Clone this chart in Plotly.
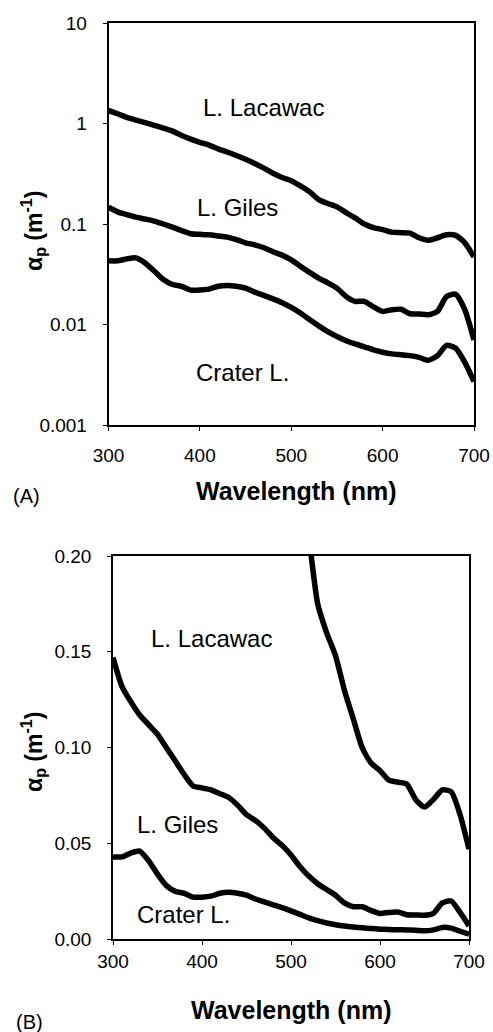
import plotly.graph_objects as go

wavelength = list(range(300, 701, 10))

lacawac = [1.35, 1.25, 1.15, 1.08, 1.02, 0.96, 0.90, 0.84, 0.76, 0.70,
           0.65, 0.61, 0.56, 0.52, 0.48, 0.44, 0.40, 0.36, 0.32, 0.29,
           0.27, 0.24, 0.21, 0.175, 0.16, 0.148, 0.13, 0.115, 0.10, 0.092,
           0.088, 0.083, 0.082, 0.081, 0.073, 0.069, 0.073, 0.078, 0.077, 0.065,
           0.047]

giles = [0.147, 0.132, 0.124, 0.117, 0.112, 0.107, 0.100, 0.093, 0.086, 0.080,
         0.079, 0.078, 0.076, 0.074, 0.070, 0.065, 0.062, 0.058, 0.053, 0.049,
         0.044, 0.038, 0.033, 0.029, 0.026, 0.023, 0.019, 0.017, 0.017, 0.015,
         0.0135, 0.014, 0.0142, 0.0128, 0.0127, 0.0125, 0.0135, 0.019, 0.020, 0.014,
         0.007]

crater = [0.043, 0.043, 0.045, 0.046, 0.041, 0.034, 0.028, 0.025, 0.024, 0.022,
          0.022, 0.0225, 0.024, 0.0245, 0.024, 0.023, 0.021, 0.0195, 0.018, 0.0165,
          0.0148, 0.013, 0.0112, 0.0097, 0.0085, 0.0076, 0.0069, 0.0064, 0.006, 0.0056,
          0.0053, 0.0051, 0.005, 0.0049, 0.0047, 0.0044, 0.0049, 0.0062, 0.0058, 0.0042,
          0.0027]

log_ticks = [0.001, 0.01, 0.1, 1, 10]
log_tick_text = ["0.001", "0.01", "0.1", "1", "10"]
lin_ticks = [0.00, 0.05, 0.10, 0.15, 0.20]
lin_tick_text = ["0.00", "0.05", "0.10", "0.15", "0.20"]
x_ticks = [300, 400, 500, 600, 700]

W, H = 493, 1032
FONT = "Liberation Sans, Arial, sans-serif"

def px(x):
    return x / W

def py(y):
    return 1 - y / H

fig = go.Figure()
line = dict(color="black", width=5.5, shape="spline", smoothing=0.6)
for series in (lacawac, giles, crater):
    fig.add_trace(go.Scatter(x=wavelength, y=series, mode="lines", line=line,
                             xaxis="x", yaxis="y", showlegend=False, hoverinfo="skip"))
for series in (lacawac, giles, crater):
    fig.add_trace(go.Scatter(x=wavelength, y=series, mode="lines", line=line,
                             xaxis="x2", yaxis="y2", showlegend=False, hoverinfo="skip"))

axis_common = dict(showline=True, linecolor="black", linewidth=1.5, mirror=True,
                   ticks="outside", ticklen=4, tickwidth=1.2, tickcolor="black",
                   showgrid=False, zeroline=False, automargin=False,
                   tickfont=dict(family=FONT, size=19, color="black"))

fig.update_layout(
    width=W, height=H,
    margin=dict(l=0, r=0, t=0, b=0),
    paper_bgcolor="white", plot_bgcolor="white",
    xaxis=dict(domain=[px(108.5), px(474)], range=[300, 700], tickvals=x_ticks,
               anchor="y", ticklabelstandoff=8, **axis_common),
    yaxis=dict(domain=[py(425), py(23)], type="log", range=[-3, 1],
               tickvals=log_ticks, ticktext=log_tick_text, anchor="x",
               ticklabelstandoff=12, **axis_common),
    xaxis2=dict(domain=[px(113), px(469)], range=[300, 700], tickvals=x_ticks,
                anchor="y2", ticklabelstandoff=0, **axis_common),
    yaxis2=dict(domain=[py(939.3), py(556)], range=[0, 0.2],
                tickvals=lin_ticks, ticktext=lin_tick_text, anchor="x2",
                ticklabelstandoff=12, **axis_common),
)

lab_font = dict(family=FONT, size=24, color="black")
annotations = [
    dict(text="L. Lacawac", x=470, y=0.16, xref="x", yref="y"),
    dict(text="L. Giles", x=441, y=-0.837, xref="x", yref="y"),
    dict(text="Crater L.", x=447, y=-2.48, xref="x", yref="y"),
    dict(text="L. Lacawac", x=411, y=0.157, xref="x2", yref="y2"),
    dict(text="L. Giles", x=372, y=0.0597, xref="x2", yref="y2"),
    dict(text="Crater L.", x=379, y=0.0127, xref="x2", yref="y2"),
]
for a in annotations:
    fig.add_annotation(showarrow=False, font=lab_font, xanchor="center", yanchor="middle", **a)

title_font = dict(family=FONT, size=25, color="black")
fig.add_annotation(text="<b>Wavelength (nm)</b>", x=px(296), y=py(491), xref="paper", yref="paper",
                   showarrow=False, font=title_font, xanchor="center", yanchor="middle")
fig.add_annotation(text="<b>Wavelength (nm)</b>", x=px(291), y=py(1010), xref="paper", yref="paper",
                   showarrow=False, font=title_font, xanchor="center", yanchor="middle")

ytitle = "<b>α<sub>p</sub> (m<sup>-1</sup>)</b>"
fig.add_annotation(text=ytitle, x=px(33), y=py(231), xref="paper", yref="paper", textangle=-90,
                   showarrow=False, font=dict(family=FONT, size=23, color="black"),
                   xanchor="center", yanchor="middle")
fig.add_annotation(text=ytitle, x=px(33), y=py(752), xref="paper", yref="paper", textangle=-90,
                   showarrow=False, font=dict(family=FONT, size=23, color="black"),
                   xanchor="center", yanchor="middle")

panel_font = dict(family=FONT, size=20, color="black")
fig.add_annotation(text="(A)", x=px(26), y=py(496), xref="paper", yref="paper",
                   showarrow=False, font=panel_font, xanchor="center", yanchor="middle")
fig.add_annotation(text="(B)", x=px(29), y=py(1022), xref="paper", yref="paper",
                   showarrow=False, font=panel_font, xanchor="center", yanchor="middle")

fig.write_html("out.html")
